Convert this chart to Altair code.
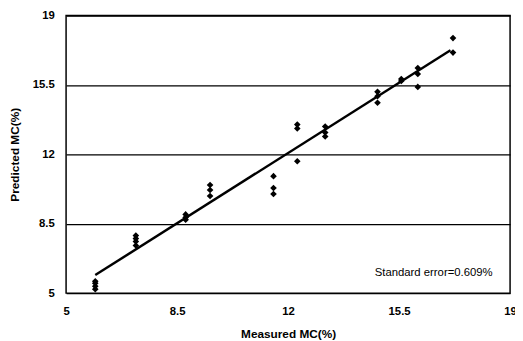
import altair as alt
import pandas as pd

measured = [5.92]*4 + [7.2]*4 + [8.77]*3 + [9.54]*3 + [11.54]*3 + [12.29]*3 + [13.17]*3 + [14.82]*3 + [15.57]*2 + [16.09]*3 + [17.2]*2
predicted = [5.2, 5.35, 5.5, 5.6,
             7.4, 7.6, 7.75, 7.9,
             8.7, 8.82, 8.97,
             9.9, 10.2, 10.45,
             10.0, 10.3, 10.9,
             11.65, 13.3, 13.5,
             12.9, 13.1, 13.4,
             14.6, 14.93, 15.15,
             15.7, 15.8,
             15.4, 16.05, 16.35,
             17.13, 17.86]
fit_x = [5.92, 17.12]
fit_y = [5.91, 17.25]
ticks = [5, 8.5, 12, 15.5, 19]
note = ["Standard error=0.609%"]
note_x = [18.45]
note_y = [6.0]

pts = pd.DataFrame({"x": measured, "y": predicted})
fit = pd.DataFrame({"x": fit_x, "y": fit_y})
ann = pd.DataFrame({"x": note_x, "y": note_y, "t": note})

font = "Liberation Sans"
xs = alt.Scale(domain=[5, 19], nice=False, zero=False)
ys = alt.Scale(domain=[5, 19], nice=False, zero=False)

xax = alt.Axis(values=ticks, format=".1~f", title="Measured MC(%)", grid=False, ticks=False,
               labelPadding=13, titlePadding=12, domain=False, labelFlush=False)
yax = alt.Axis(values=ticks, format=".1~f", title="Predicted MC(%)", grid=True, gridColor="black",
               gridOpacity=1, gridWidth=1.3, ticks=False, labelPadding=12,
               titlePadding=11, domain=False, labelFlush=False)

points = alt.Chart(pts).mark_point(shape="diamond", filled=True, color="black", size=45, opacity=1).encode(
    x=alt.X("x:Q", scale=xs, axis=xax),
    y=alt.Y("y:Q", scale=ys, axis=yax),
)
line = alt.Chart(fit).mark_line(color="black", strokeWidth=2.5).encode(
    x=alt.X("x:Q", scale=xs), y=alt.Y("y:Q", scale=ys)
)
text = alt.Chart(ann).mark_text(align="right", baseline="middle", font=font, fontSize=11.5,
                                 fontWeight="normal", color="black").encode(
    x=alt.X("x:Q", scale=xs), y=alt.Y("y:Q", scale=ys), text="t:N"
)

chart = alt.layer(points, line, text).properties(
    width=451, height=282,
    autosize=alt.AutoSizeParams(type="none"),
    padding={"left": 59, "top": 5, "right": 5, "bottom": 46},
).configure_view(stroke="black", strokeWidth=1.5).configure_axis(
    labelFont=font, titleFont=font, labelFontSize=11.5, titleFontSize=12,
    labelFontWeight="bold", titleFontWeight="bold", labelColor="black", titleColor="black"
)

chart.save("out.html", embed_options={"renderer": "svg", "actions": False})
